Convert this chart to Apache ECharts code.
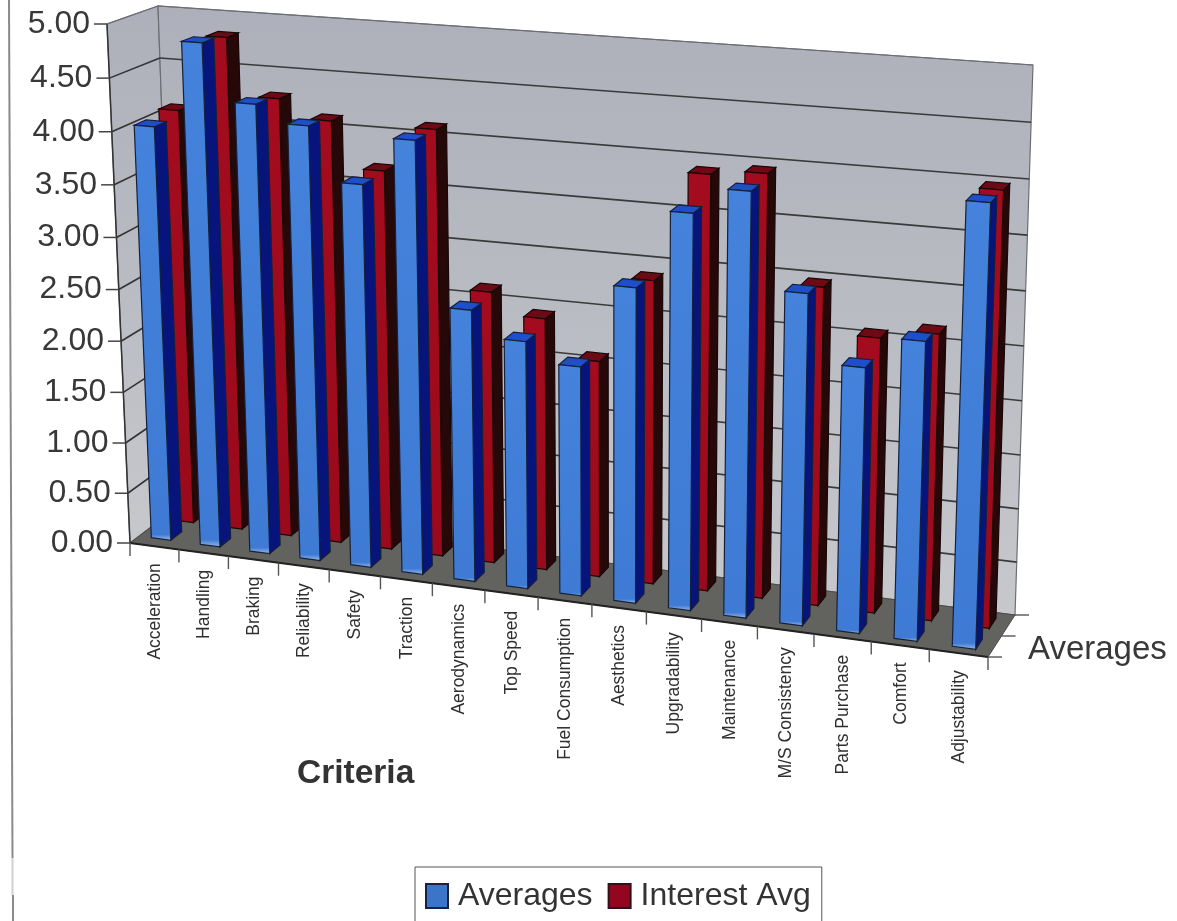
<!DOCTYPE html>
<html>
<head>
<meta charset="utf-8">
<style>html,body{margin:0;padding:0;background:#fff}#chart{width:1177px;height:921px}</style>
<script src="https://cdn.jsdelivr.net/npm/echarts@6/dist/echarts.min.js"></script>
</head>
<body>
<div id="chart"></div>
<script>
const categories = ['Acceleration','Handling','Braking','Reliability','Safety','Traction','Aerodynamics','Top Speed','Fuel Consumption','Aesthetics','Upgradability','Maintenance','M/S Consistency','Parts Purchase','Comfort','Adjustability'];
const averages = [4.03,4.85,4.32,4.16,3.66,4.11,2.59,2.35,2.17,2.95,3.67,3.91,3.05,2.44,2.73,3.99];
const interestAvg = [4.08,4.81,4.27,4.10,3.67,4.10,2.62,2.42,2.07,2.88,3.90,3.95,2.97,2.56,2.65,3.98];
const valueTicks = [0,0.5,1,1.5,2,2.5,3,3.5,4,4.5,5];

// Corners of the front and back planes of the 3D box, on screen.
const front = quadMap([130,543],[988,657],[1008,88],[107,24]);
const back = quadMap([176,508],[1015,615],[1033,65],[158,6]);

// Plot rectangle of the (hidden) value and category axes.
const GRID = {x:130, y:24, w:858, h:519};

function quadMap(p0,p1,p2,p3){
  const sx=p0[0]-p1[0]+p2[0]-p3[0], sy=p0[1]-p1[1]+p2[1]-p3[1];
  const dx1=p1[0]-p2[0], dx2=p3[0]-p2[0], dy1=p1[1]-p2[1], dy2=p3[1]-p2[1];
  const den=dx1*dy2-dx2*dy1;
  const g=(sx*dy2-dx2*sy)/den, h=(dx1*sy-sx*dy1)/den;
  const a=p1[0]-p0[0]+g*p1[0], b=p3[0]-p0[0]+h*p3[0], c=p0[0];
  const d=p1[1]-p0[1]+g*p1[1], e=p3[1]-p0[1]+h*p3[1], f=p0[1];
  return (u,v)=>{const w=g*u+h*v+1; return [(a*u+b*v+c)/w,(d*u+e*v+f)/w];};
}
// u along the categories, v up the value axis, depth from front (0) to back (1).
function project(u,v,depth){
  const p=front(u,v), q=back(u,v);
  return [p[0]+(q[0]-p[0])*depth, p[1]+(q[1]-p[1])*depth];
}
function unit(c){ return [(c[0]-GRID.x)/GRID.w, (GRID.y+GRID.h-c[1])/GRID.h]; }
function poly(points,style){ return {type:'polygon',shape:{points},style}; }
function seg(a,b,stroke,lineWidth){ return {type:'line',shape:{x1:a[0],y1:a[1],x2:b[0],y2:b[1]},style:{stroke,lineWidth}}; }

function barRenderer(depth0,depth1,colors){
  return function(params,api){
    const i=api.value(0), c=unit(api.coord([i,api.value(1)])), base=unit(api.coord([i,0]));
    const band=unit([GRID.x+api.size([1,0])[0],0])[0];
    // Rows drift slightly forward and to the right along the floor.
    const drift=c[0];
    const uMid=c[0]+band*0.083*drift;
    const d0=depth0-0.07*drift, d1=depth1-0.07*drift;
    const u0=uMid-band*0.25, u1=uMid+band*0.15, v=c[1], v0=base[1];
    const A=project(u0,v0,d0),B=project(u1,v0,d0),C=project(u1,v,d0),D=project(u0,v,d0);
    const E=project(u1,v0,d1),F=project(u1,v,d1),G=project(u0,v,d1);
    const edge={stroke:colors.edge,lineWidth:1.2};
    return {type:'group',children:[
      poly([B,E,F,C],Object.assign({fill:colors.side},edge)),
      poly([D,C,F,G],Object.assign({fill:colors.top},edge)),
      poly([A,B,C,D],Object.assign({fill:{type:'linear',x:0,y:0,x2:0,y2:1,colorStops:colors.face}},edge))
    ]};
  };
}

function boxRenderer(params,api){
  const val=api.value(1), v=unit(api.coord([0,val]))[1], children=[];
  if(params.dataIndex===0){
    const wall={type:'linear',x:0,y:0,x2:0,y2:1,colorStops:[{offset:0,color:'#adafba'},{offset:1,color:'#c6c8cc'}]};
    const border={stroke:'#6d6e73',lineWidth:1.2};
    children.push(poly([project(0,0,0),project(0,0,1),project(0,1,1),project(0,1,0)],Object.assign({fill:wall},border)));
    children.push(poly([project(0,0,1),project(1,0,1),project(1,1,1),project(0,1,1)],Object.assign({fill:wall},border)));
    children.push(poly([project(0,0,0),project(1,0,0),project(1,0,1),project(0,0,1)],{fill:'#62625e',stroke:'#4a4a48',lineWidth:1}));
    children.push(seg(project(0,0,0),project(1,0,0),'#222',2));
    children.push(seg(project(0,0,0),project(0,1,0),'#333',1.5));
  }
  const a=project(0,v,0), b=project(0,v,1), e=project(1,v,1);
  if(val>0 && val<5){ children.push(seg(a,b,'#333',1.6), seg(b,e,'#3a3a3c',1.6)); }
  else if(val===5){ children.push(seg(a,b,'#6d6e73',1.2), seg(b,e,'#6d6e73',1.2)); }
  children.push(seg(a,[a[0]-13,a[1]],'#444',1.5));
  children.push({type:'text',x:a[0]-17,y:a[1],style:{text:val.toFixed(2),align:'right',verticalAlign:'middle',
    font:'32px "Liberation Sans", Arial, sans-serif',fill:'#383838'}});
  return {type:'group',children};
}

function categoryRenderer(params,api){
  const i=api.value(0), c=unit(api.coord([i,0])), band=unit([GRID.x+api.size([1,0])[0],0])[0];
  const left=project(c[0]-band/2,0,0), mid=project(c[0]+band*0.01,0,0);
  const children=[seg(left,[left[0],left[1]+13],'#555',1.4)];
  children.push({type:'text',x:mid[0],y:mid[1]+17,rotation:Math.PI/2,
    style:{text:categories[i],align:'right',verticalAlign:'middle',font:'17.5px "Liberation Sans", Arial, sans-serif',fill:'#2f2f2f'}});
  if(i===categories.length-1){
    const r=project(1,0,0);
    children.push(seg(r,[r[0],r[1]+13],'#555',1.4));
    [0,0.5,1].forEach(d=>{const p=project(1,0,d); children.push(seg(p,[p[0]+14,p[1]],'#555',1.4));});
  }
  return {type:'group',children};
}

const blueColors={edge:'#15203a',side:'#07147c',top:'#1f4fc8',face:[{offset:0,color:'#4482dc'},{offset:0.985,color:'#3f7bd4'},{offset:1,color:'#9fbfe8'}]};
const redColors={edge:'#1a0606',side:'#260808',top:'#6e0a16',face:[{offset:0,color:'#a30c1e'},{offset:1,color:'#9a0a1c'}]};

const chart=echarts.init(document.getElementById('chart'),null,{renderer:'canvas'});
chart.setOption({
  animation:false,
  backgroundColor:'#ffffff',
  grid:{left:GRID.x,top:GRID.y,width:GRID.w,height:GRID.h,containLabel:false},
  xAxis:{type:'category',data:categories,show:false},
  yAxis:{type:'value',min:0,max:5,interval:0.5,show:false},
  legend:{
    data:[{name:'Averages',icon:'rect'},{name:'Interest Avg',icon:'rect'}],
    left:415,top:867,padding:[13,11,13,10],itemWidth:22,itemHeight:24,itemGap:15,
    backgroundColor:'#fff',borderColor:'#555',borderWidth:1,borderRadius:0,selectedMode:false,
    textStyle:{fontSize:32,color:'#333',fontFamily:'"Liberation Sans", Arial, sans-serif',padding:[0,0,0,5]}
  },
  graphic:[
    {type:'line',silent:true,shape:{x1:9,y1:0,x2:12.5,y2:858},style:{stroke:'#8a8a8a',lineWidth:2}},
    {type:'line',silent:true,shape:{x1:12.5,y1:858,x2:12.5,y2:895},style:{stroke:'#d0d0d0',lineWidth:2}},
    {type:'line',silent:true,shape:{x1:13,y1:895,x2:13,y2:921},style:{stroke:'#8a8a8a',lineWidth:2}},
    {type:'text',left:297,top:757,style:{text:'Criteria',font:'bold 33.5px "Liberation Sans", Arial, sans-serif',fill:'#333'}},
    {type:'text',left:1028,top:633,style:{text:'Averages',font:'33px "Liberation Sans", Arial, sans-serif',fill:'#383838'}}
  ],
  series:[
    {name:'Box',type:'custom',z:1,silent:true,clip:false,data:valueTicks.map(t=>[0,t]),renderItem:boxRenderer},
    {name:'Criteria',type:'custom',z:2,silent:true,clip:false,data:categories.map((c,i)=>[i,0]),renderItem:categoryRenderer},
    {name:'Averages',type:'custom',z:4,clip:false,itemStyle:{color:'#3b74c8',borderColor:'#1a2040',borderWidth:2},
      data:averages.map((v,i)=>[i,v]),renderItem:barRenderer(0.2,0.44,blueColors)},
    {name:'Interest Avg',type:'custom',z:3,clip:false,itemStyle:{color:'#93061f',borderColor:'#30101a',borderWidth:2},
      data:interestAvg.map((v,i)=>[i,v]),renderItem:barRenderer(0.7,0.94,redColors)}
  ]
});
</script>
</body>
</html>
